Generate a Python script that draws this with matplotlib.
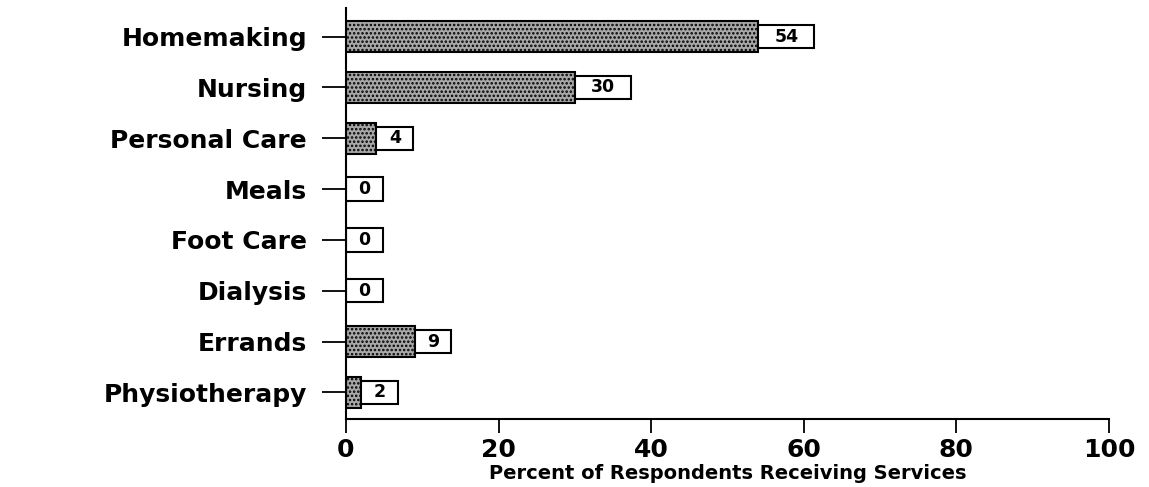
import matplotlib
matplotlib.use("Agg")
import matplotlib.pyplot as plt

services = ["Homemaking", "Nursing", "Personal Care", "Meals",
            "Foot Care", "Dialysis", "Errands", "Physiotherapy"]
percent = [54, 30, 4, 0, 0, 0, 9, 2]
x_ticks = [0, 20, 40, 60, 80, 100]

plt.rcParams['font.family'] = ['DejaVu Sans']
plt.rcParams['hatch.linewidth'] = 1.2
plt.rcParams['hatch.color'] = '#2a2a2a'

fig = plt.figure(figsize=(11.49, 4.87), dpi=100)
ax = fig.add_axes([0.3011, 0.1396, 0.6641, 0.8440])

pos = list(range(len(services)))
ax.barh(pos, percent, height=0.61, color='#a8a8a8', edgecolor='black',
        hatch='....', linewidth=1.5)

# value boxes sitting at the end of each bar
box_w = [7.4 if v >= 10 else 4.8 for v in percent]
ax.barh(pos, box_w, left=percent, height=0.46, color='white',
        edgecolor='black', linewidth=1.5)
for p, v, w in zip(pos, percent, box_w):
    ax.text(v + w / 2, p, str(v), ha='center', va='center',
            fontsize=12.5, fontweight='bold')

ax.set_xlim(0, 100)
ax.set_ylim(7.525, -0.565)
ax.set_yticks(pos)
ax.set_yticklabels(services, fontsize=18, fontweight='bold')
ax.set_xticks(x_ticks)
ax.set_xticklabels([str(t) for t in x_ticks], fontsize=18, fontweight='bold')
ax.tick_params(axis='y', length=17, width=1.3, pad=11)
ax.tick_params(axis='x', length=10, width=1.3, pad=4)
ax.set_xlabel("Percent of Respondents Receiving Services", fontsize=14,
              fontweight='bold', labelpad=1)

for s in ['top', 'right']:
    ax.spines[s].set_visible(False)
for s in ['left', 'bottom']:
    ax.spines[s].set_linewidth(1.5)

fig.savefig("out.png", dpi=100)
